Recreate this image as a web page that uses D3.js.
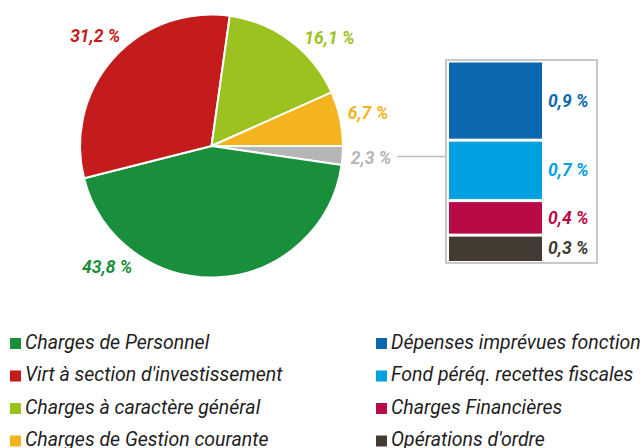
<!DOCTYPE html>
<html>
<head>
<meta charset="utf-8">
<script src="https://cdn.jsdelivr.net/npm/d3@7"></script>
<style>
  html, body { margin: 0; padding: 0; background: #fff; }
  svg { display: block; font-family: Roboto, "Noto Sans", sans-serif; }
</style>
</head>
<body>
<svg id="chart" width="644" height="448"></svg>
<script>
// Main slices (legend order, left column)
const mainLabels = [
  'Charges de Personnel',
  "Virt à section d'investissement",
  'Charges à caractère général',
  'Charges de Gestion courante',
];
const mainValues = [43.8, 31.2, 16.1, 6.7];
const mainColors = ['#1a8f3b', '#c41b1c', '#9cc21f', '#f4b420'];

// Breakdown of the small grey slice (right column)
const otherLabels = [
  'Dépenses imprévues fonction',
  'Fond péréq. recettes fiscales',
  'Charges Financières',
  "Opérations d'ordre",
];
const otherValues = [0.9, 0.7, 0.4, 0.3];
const otherColors = ['#0b68b0', '#00a0e1', '#b80a46', '#433a31'];
const otherColor = '#b5b5b5';

const fmt = v => d3.format('.1f')(v).replace('.', ',') + ' %';

const svg = d3.select('#chart');

// ---- pie ----
const cx = 211.5;
const cy = 146;
const radius = 131.5;
const labelRadius = 160;
// some labels are nudged round the circle (degrees, by pie index:
// 0 grey, 1 personnel, 2 virt, 3 general, 4 gestion)
const labelShift = { 1: 43.7, 2: 1.5, 3: 10.5 };

const otherTotal = d3.sum(otherValues);
const pieData = [
  { value: otherTotal, color: otherColor },
  ...mainValues.map((v, i) => ({ value: v, color: mainColors[i] })),
];

const pie = d3.pie()
  .sort(null)
  .value(d => d.value)
  .startAngle(Math.PI / 2)
  .endAngle(Math.PI / 2 + 2 * Math.PI);

const arcs = pie(pieData);
const arc = d3.arc().innerRadius(0).outerRadius(radius);

const g = svg.append('g')
  .attr('transform', `translate(${cx}, ${cy})`);

g.selectAll('path.slice')
  .data(arcs)
  .enter().append('path')
    .attr('class', 'slice')
    .attr('d', arc)
    .attr('fill', d => d.data.color)
    .attr('stroke', '#fff')
    .attr('stroke-width', 2)
    .attr('stroke-linejoin', 'round');

const labelPos = (d, i) => {
  const a = (d.startAngle + d.endAngle) / 2 + ((labelShift[i] || 0) * Math.PI / 180);
  return [Math.sin(a) * labelRadius, -Math.cos(a) * labelRadius];
};

const pieLabels = g.selectAll('text.pie-label')
  .data(arcs)
  .enter().append('text')
    .attr('class', 'pie-label')
    .attr('x', (d, i) => labelPos(d, i)[0])
    .attr('y', (d, i) => labelPos(d, i)[1])
    .attr('text-anchor', 'middle')
    .attr('dominant-baseline', 'central')
    .attr('font-size', 17.5)
    .attr('font-weight', 'bold')
    .attr('font-style', 'italic')
    .attr('fill', d => d.data.color)
    .text(d => fmt(d.data.value));

// ---- breakdown box ----
const box = { x: 446, y: 60, w: 151, h: 203 };
const barX = 449;
const barW = 93;
const gap = 3;

svg.append('rect')
  .attr('x', box.x)
  .attr('y', box.y)
  .attr('width', box.w)
  .attr('height', box.h)
  .attr('fill', '#fff')
  .attr('stroke', '#c8c8c8')
  .attr('stroke-width', 2);

// connector from the grey label to the box
const greyBox = pieLabels.filter((d, i) => i === 0).node().getBBox();
const lineY = cy + greyBox.y + greyBox.height / 2 - 1;
svg.append('line')
  .attr('x1', cx + greyBox.x + greyBox.width + 6)
  .attr('x2', box.x - 1)
  .attr('y1', lineY)
  .attr('y2', lineY)
  .attr('stroke', '#bcbcbc')
  .attr('stroke-width', 1.5);

const ends = d3.cumsum(otherValues);
const y = d3.scaleLinear()
  .domain([0, otherTotal])
  .range([box.y + 2.5, box.y + box.h - 2]);

const bars = svg.selectAll('g.bar')
  .data(otherValues)
  .enter().append('g')
    .attr('class', 'bar');

bars.append('rect')
  .attr('x', barX)
  .attr('width', barW)
  .attr('y', (d, i) => y(ends[i] - d) + (i > 0 ? gap / 2 : 0))
  .attr('height', (d, i) => y(ends[i]) - y(ends[i] - d)
    - (i > 0 ? gap / 2 : 0) - (i < otherValues.length - 1 ? gap / 2 : 0))
  .attr('fill', (d, i) => otherColors[i]);

bars.append('text')
  .attr('x', barX + barW + 6)
  .attr('y', (d, i) => (y(ends[i] - d) + y(ends[i])) / 2)
  .attr('dominant-baseline', 'central')
  .attr('font-size', 17.5)
  .attr('font-weight', 'bold')
  .attr('font-style', 'italic')
  .attr('fill', (d, i) => otherColors[i])
  .text(d => fmt(d));

// ---- legend ----
const legendRows = d3.range(4);
const rowY = d3.scalePoint().domain(legendRows).range([348.5, 446]);

const legendCols = [
  { x: 10, labels: mainLabels, colors: mainColors },
  { x: 376, labels: otherLabels, colors: otherColors },
];

legendCols.forEach((col) => {
  const items = svg.append('g')
    .selectAll('g')
    .data(col.labels)
    .enter().append('g')
      .attr('transform', (d, i) => `translate(${col.x}, ${rowY(i)})`);

  items.append('rect')
    .attr('x', 0)
    .attr('y', -10.5)
    .attr('width', 11)
    .attr('height', 11)
    .attr('fill', (d, i) => col.colors[i]);

  items.append('text')
    .attr('x', 15)
    .attr('y', 0)
    .attr('font-size', 19.5)
    .attr('font-style', 'italic')
    .attr('fill', '#1e1e1e')
    .text(d => d);
});
</script>
</body>
</html>
